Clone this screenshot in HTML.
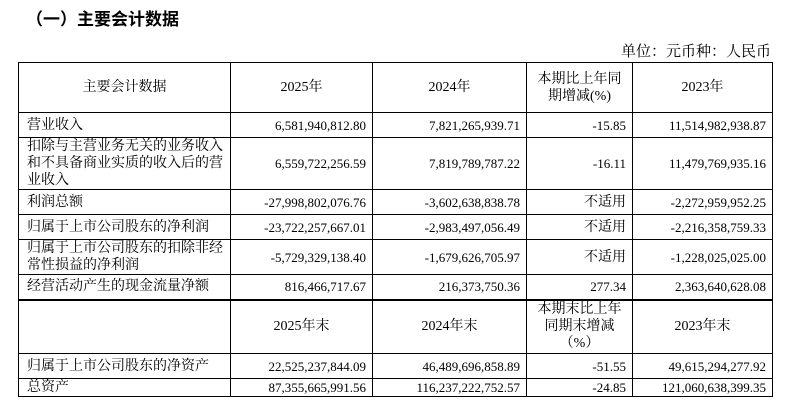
<!DOCTYPE html>
<html><head><meta charset="utf-8"><style>
body{margin:0;width:789px;height:407px;background:#fff;position:relative;overflow:hidden;font-family:"Liberation Serif","Noto Serif CJK SC",serif;color:#000}
.title{position:absolute;left:26px;top:5px;font-size:17px;font-weight:bold;font-family:"Liberation Sans","Noto Sans CJK SC",sans-serif}
.unit{position:absolute;right:18px;top:40px;font-size:15px}
table{position:absolute;left:18px;top:62px;border-collapse:collapse;table-layout:fixed;font-size:13px}
td{border:1px solid #000;padding:0 6px;line-height:17px;overflow:visible;white-space:nowrap}
td.l{text-align:left;white-space:normal;padding:0 4px 0 8px;font-size:14px}
td.r{text-align:right}
td.c{text-align:center;white-space:normal;font-size:14px}
td.n{text-align:right;font-size:14px}
tr.dbl td{border-bottom:2px solid #000}
</style></head><body>
<div class="title">（一）主要会计数据</div>
<div class="unit">单位：元币种：人民币</div>
<table>
<colgroup><col style="width:212px"><col style="width:142px"><col style="width:154px"><col style="width:106px"><col style="width:140px"></colgroup>
<tr style="height:50px"><td class="c">主要会计数据</td><td class="c">2025年</td><td class="c">2024年</td><td class="c">本期比上年同期增减(%)</td><td class="c">2023年</td></tr>
<tr style="height:25px"><td class="l">营业收入</td><td class="r">6,581,940,812.80</td><td class="r">7,821,265,939.71</td><td class="r">-15.85</td><td class="r">11,514,982,938.87</td></tr>
<tr style="height:52px"><td class="l">扣除与主营业务无关的业务收入和不具备商业实质的收入后的营业收入</td><td class="r">6,559,722,256.59</td><td class="r">7,819,789,787.22</td><td class="r">-16.11</td><td class="r">11,479,769,935.16</td></tr>
<tr style="height:25px"><td class="l">利润总额</td><td class="r">-27,998,802,076.76</td><td class="r">-3,602,638,838.78</td><td class="n">不适用</td><td class="r">-2,272,959,952.25</td></tr>
<tr style="height:25px"><td class="l">归属于上市公司股东的净利润</td><td class="r">-23,722,257,667.01</td><td class="r">-2,983,497,056.49</td><td class="n">不适用</td><td class="r">-2,216,358,759.33</td></tr>
<tr style="height:35px"><td class="l">归属于上市公司股东的扣除非经常性损益的净利润</td><td class="r">-5,729,329,138.40</td><td class="r">-1,679,626,705.97</td><td class="n">不适用</td><td class="r">-1,228,025,025.00</td></tr>
<tr style="height:25px" class="dbl"><td class="l">经营活动产生的现金流量净额</td><td class="r">816,466,717.67</td><td class="r">216,373,750.36</td><td class="r">277.34</td><td class="r">2,363,640,628.08</td></tr>
<tr style="height:54px"><td class="l"></td><td class="c">2025年末</td><td class="c">2024年末</td><td class="c">本期末比上年同期末增减（%）</td><td class="c">2023年末</td></tr>
<tr style="height:25px"><td class="l">归属于上市公司股东的净资产</td><td class="r">22,525,237,844.09</td><td class="r">46,489,696,858.89</td><td class="r">-51.55</td><td class="r">49,615,294,277.92</td></tr>
<tr style="height:17px"><td class="l">总资产</td><td class="r">87,355,665,991.56</td><td class="r">116,237,222,752.57</td><td class="r">-24.85</td><td class="r">121,060,638,399.35</td></tr>
</table>
</body></html>
